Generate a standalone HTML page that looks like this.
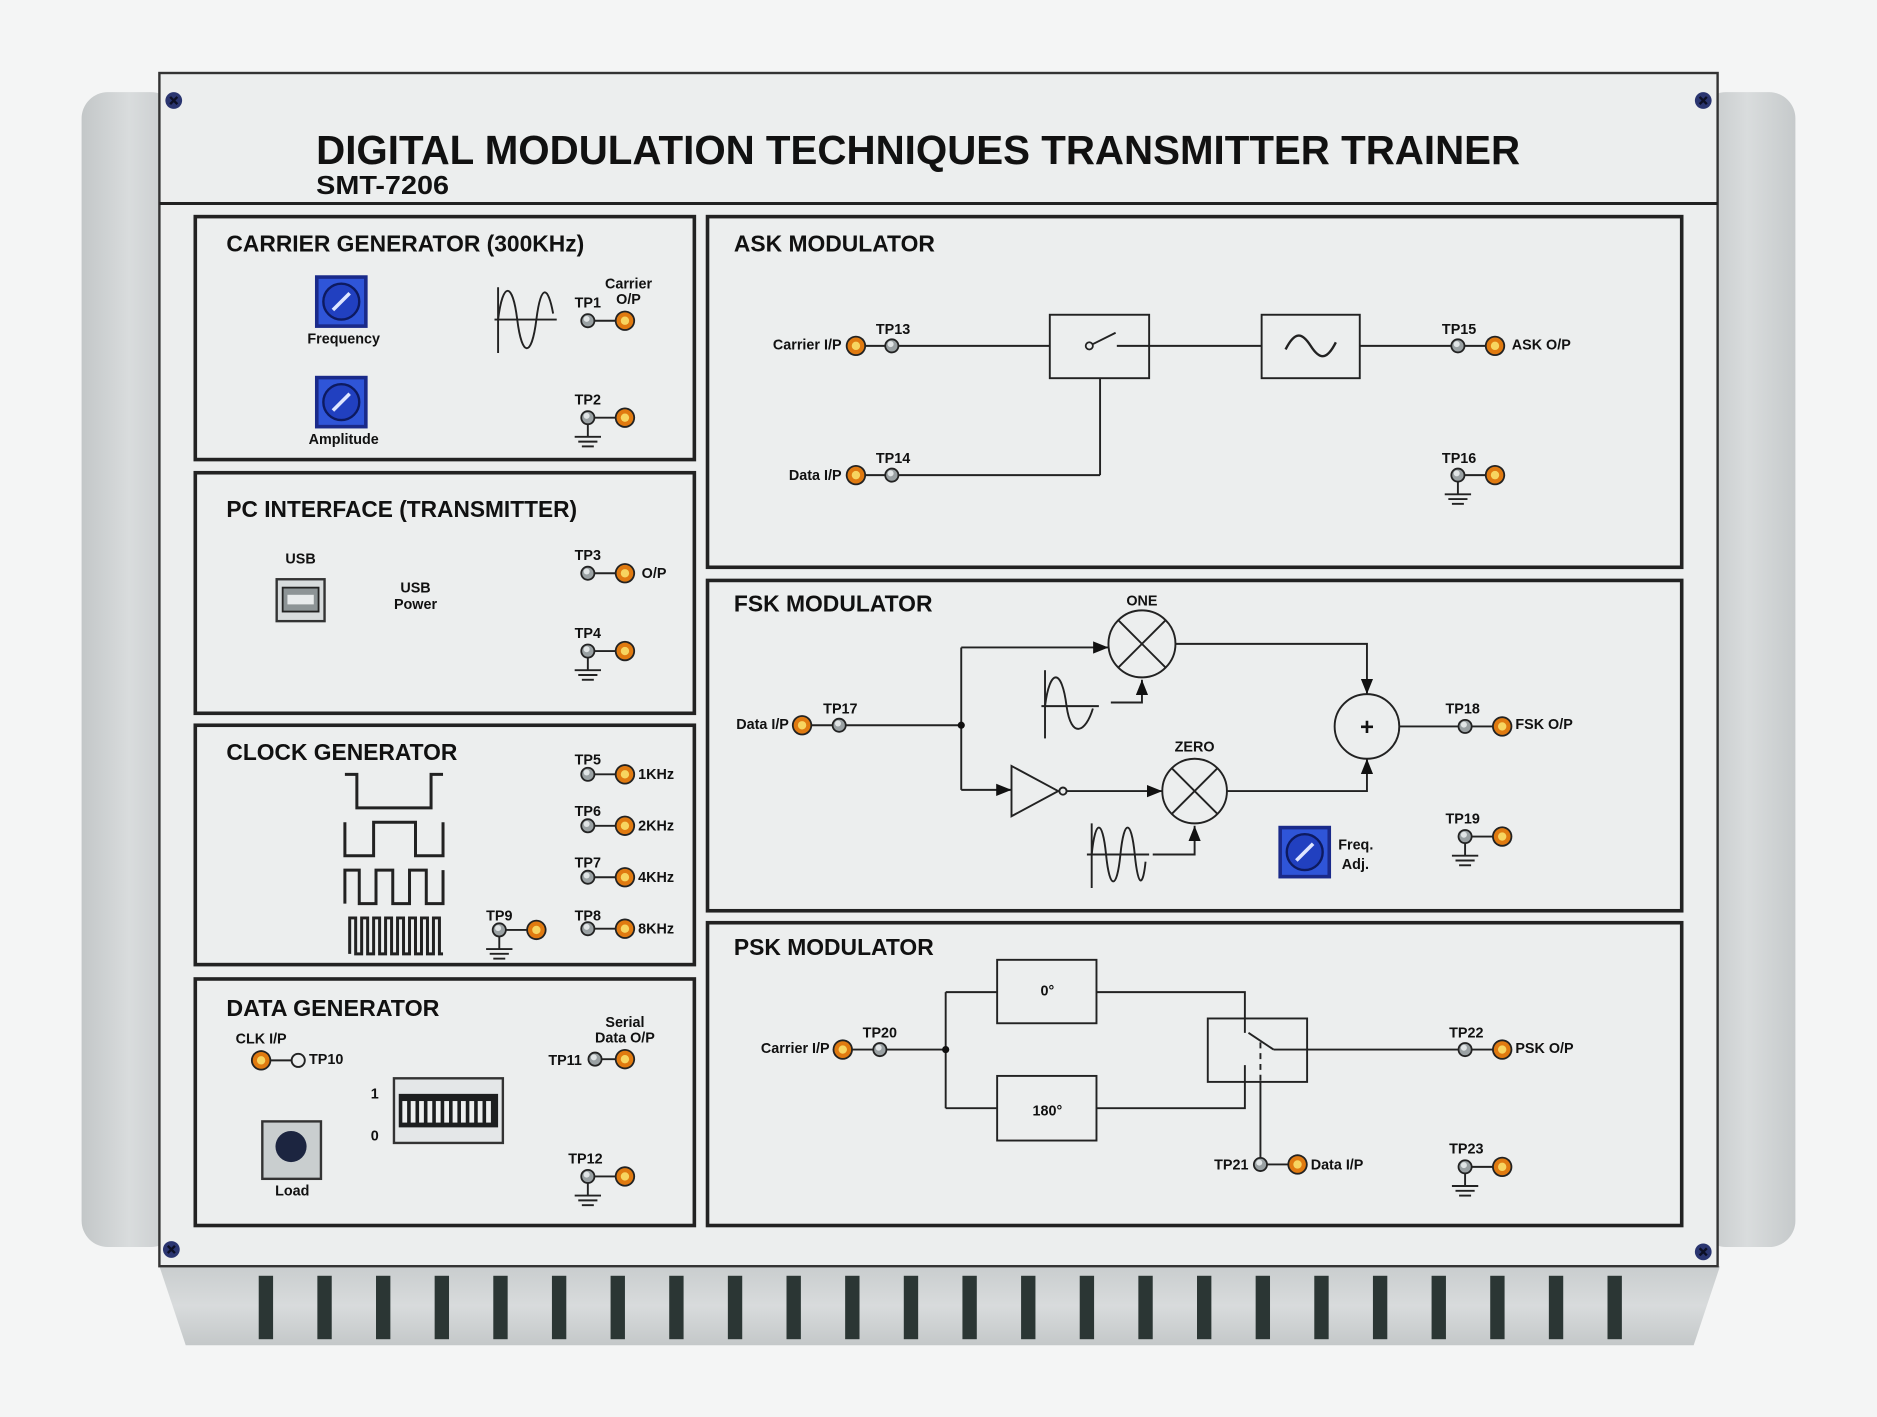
<!DOCTYPE html>
<html><head><meta charset="utf-8"><style>
html,body{margin:0;padding:0;background:#f4f5f5;}
svg{display:block;}
text{font-family:"Liberation Sans",Arial,sans-serif;font-weight:bold;fill:#111;}
</style></head><body>
<svg width="1877" height="1417" viewBox="0 0 1568 1184" xmlns="http://www.w3.org/2000/svg">
<defs>
<linearGradient id="metal" x1="0" y1="0" x2="0" y2="1">
<stop offset="0" stop-color="#c9cdce"/><stop offset="0.5" stop-color="#d8dbdc"/><stop offset="1" stop-color="#c4c8c9"/></linearGradient>
<linearGradient id="metalh" x1="0" y1="0" x2="1" y2="0">
<stop offset="0" stop-color="#c3c7c8"/><stop offset="0.5" stop-color="#d9dcdd"/><stop offset="1" stop-color="#c6cacb"/></linearGradient>
<g id="gtp"><circle r="5.5" fill="#9aa1a3" stroke="#222" stroke-width="1.5"/><circle cx="-1" cy="-1.5" r="2.5" fill="#e0e4e5"/></g>
<g id="otp"><circle r="8.5" fill="#222"/><circle r="7" fill="#e07a10"/><circle r="3.5" fill="#f7d560"/></g>
<g id="gnd" stroke="#222" stroke-width="1.6"><line x1="0" y1="5" x2="0" y2="16"/><line x1="-11" y1="16" x2="11" y2="16"/><line x1="-8" y1="20" x2="8" y2="20"/><line x1="-5" y1="24" x2="5" y2="24"/></g>
<g id="pot"><rect width="44" height="44" fill="#1a2a8a"/><rect x="3" y="3" width="38" height="38" fill="#2f55d8"/><circle cx="22" cy="22" r="15" fill="#2140c0" stroke="#0d1a60" stroke-width="2"/><line x1="15" y1="29" x2="29" y2="15" stroke="#dfe6ff" stroke-width="3"/></g>
<g id="screw"><circle r="7" fill="#2a3570"/><path d="M-3,-3 L3,3 M3,-3 L-3,3" stroke="#0c0f25" stroke-width="2"/></g>
<marker id="ar" viewBox="0 0 10 10" refX="10" refY="5" markerWidth="8" markerHeight="8" orient="auto"><path d="M0,1 L10,5 L0,9 z" fill="#111"/></marker>
</defs>

<!-- side metal -->
<rect x="68" y="77" width="80" height="965" rx="22" fill="url(#metalh)"/>
<rect x="1420" y="77" width="80" height="965" rx="22" fill="url(#metalh)"/>
<!-- bottom trapezoid -->
<path d="M133,1058 L1437,1058 L1415,1124 L155,1124 Z" fill="url(#metal)"/>
<g fill="#2b3634">
<rect x="216" y="1066" width="12" height="53"/><rect x="265" y="1066" width="12" height="53"/><rect x="314" y="1066" width="12" height="53"/><rect x="363" y="1066" width="12" height="53"/><rect x="412" y="1066" width="12" height="53"/><rect x="461" y="1066" width="12" height="53"/><rect x="510" y="1066" width="12" height="53"/><rect x="559" y="1066" width="12" height="53"/><rect x="608" y="1066" width="12" height="53"/><rect x="657" y="1066" width="12" height="53"/><rect x="706" y="1066" width="12" height="53"/><rect x="755" y="1066" width="12" height="53"/><rect x="804" y="1066" width="12" height="53"/><rect x="853" y="1066" width="12" height="53"/><rect x="902" y="1066" width="12" height="53"/><rect x="951" y="1066" width="12" height="53"/><rect x="1000" y="1066" width="12" height="53"/><rect x="1049" y="1066" width="12" height="53"/><rect x="1098" y="1066" width="12" height="53"/><rect x="1147" y="1066" width="12" height="53"/><rect x="1196" y="1066" width="12" height="53"/><rect x="1245" y="1066" width="12" height="53"/><rect x="1294" y="1066" width="12" height="53"/><rect x="1343" y="1066" width="12" height="53"/>
</g>
<!-- main panel -->
<rect x="133" y="61" width="1302" height="997" fill="#eceeee" stroke="#333" stroke-width="2"/>
<line x1="133" y1="170" x2="1435" y2="170" stroke="#222" stroke-width="2.5"/>
<use href="#screw" x="145" y="84"/><use href="#screw" x="1423" y="84"/><use href="#screw" x="143" y="1044"/><use href="#screw" x="1423" y="1046"/>
<text x="264" y="137" font-size="34" textLength="1006" lengthAdjust="spacingAndGlyphs">DIGITAL MODULATION TECHNIQUES TRANSMITTER TRAINER</text>
<text x="264" y="162" font-size="22" textLength="111" lengthAdjust="spacingAndGlyphs">SMT-7206</text>

<g fill="none" stroke="#222" stroke-width="3">
<rect x="163" y="181" width="417" height="203"/>
<rect x="163" y="395" width="417" height="201"/>
<rect x="163" y="606" width="417" height="200"/>
<rect x="163" y="818" width="417" height="206"/>
<rect x="591" y="181" width="814" height="293"/>
<rect x="591" y="485" width="814" height="276"/>
<rect x="591" y="771" width="814" height="253"/>
</g>
<g font-size="19">
<text x="189" y="210" textLength="299" lengthAdjust="spacingAndGlyphs">CARRIER GENERATOR (300KHz)</text>
<text x="189" y="432" textLength="293" lengthAdjust="spacingAndGlyphs">PC INTERFACE (TRANSMITTER)</text>
<text x="189" y="635" textLength="193" lengthAdjust="spacingAndGlyphs">CLOCK GENERATOR</text>
<text x="189" y="849" textLength="178" lengthAdjust="spacingAndGlyphs">DATA GENERATOR</text>
<text x="613" y="210" textLength="168" lengthAdjust="spacingAndGlyphs">ASK MODULATOR</text>
<text x="613" y="511" textLength="166" lengthAdjust="spacingAndGlyphs">FSK MODULATOR</text>
<text x="613" y="798" textLength="167" lengthAdjust="spacingAndGlyphs">PSK MODULATOR</text>
</g>

<g stroke="#222" stroke-width="1.6" fill="none">
<!-- connectors between TPs -->
<line x1="491" y1="268" x2="522" y2="268"/><line x1="491" y1="349" x2="522" y2="349"/>
<line x1="491" y1="479" x2="522" y2="479"/><line x1="491" y1="544" x2="522" y2="544"/>
<line x1="491" y1="647" x2="522" y2="647"/><line x1="491" y1="690" x2="522" y2="690"/><line x1="491" y1="733" x2="522" y2="733"/><line x1="491" y1="776" x2="522" y2="776"/><line x1="417" y1="777" x2="448" y2="777"/>
<line x1="218" y1="886" x2="249" y2="886"/><line x1="497" y1="885" x2="522" y2="885"/><line x1="491" y1="983" x2="522" y2="983"/>
<!-- carrier sine -->
<line x1="416" y1="240" x2="416" y2="295"/><line x1="413" y1="267" x2="465" y2="267"/>
<path d="M416,267 C420,235 428,235 432,267 C436,299 444,299 448,267 C452,235 458,240 462,262"/>
<!-- clock waveforms -->
<path stroke-width="2.5" d="M288,647 H298 V675 H360 V647 H370"/>
<path stroke-width="2.5" d="M288,687 V715 H312 V687 H347 V715 H370 V687"/>
<path stroke-width="2.5" d="M288,755 V727 H300 V755 H314 V727 H328 V755 H342 V727 H356 V755 H370 V727"/>
<path stroke-width="2.5" d="M292,797 V767 H297 V797 H302 V767 H307 V797 H312 V767 H317 V797 H322 V767 H327 V797 H332 V767 H337 V797 H342 V767 H347 V797 H352 V767 H357 V797 H362 V767 H367 V797 H370"/>
<!-- ASK -->
<line x1="715" y1="289" x2="877" y2="289"/>
<rect x="877" y="263" width="83" height="53"/>
<line x1="933" y1="289" x2="960" y2="289"/><line x1="912" y1="288" x2="932" y2="278"/>
<line x1="960" y1="289" x2="1054" y2="289"/>
<rect x="1054" y="263" width="82" height="53"/>
<path d="M1074,292 C1082,276 1088,278 1095,289 C1102,300 1108,302 1116,286" stroke-width="2"/>
<line x1="1136" y1="289" x2="1249" y2="289"/>
<line x1="715" y1="397" x2="919" y2="397"/><line x1="919" y1="397" x2="919" y2="316"/>
<line x1="1218" y1="397" x2="1249" y2="397"/>
<!-- FSK -->
<line x1="670" y1="606" x2="803" y2="606"/>
<line x1="803" y1="541" x2="803" y2="660"/>
<line x1="803" y1="541" x2="926" y2="541" marker-end="url(#ar)"/>
<circle cx="954" cy="538" r="28"/><path d="M934,518 L974,558 M974,518 L934,558"/>
<line x1="803" y1="660" x2="845" y2="660" marker-end="url(#ar)"/>
<path d="M845,640 L845,682 L884,661 Z"/><circle cx="888" cy="661" r="3"/>
<line x1="891" y1="661" x2="971" y2="661" marker-end="url(#ar)"/>
<circle cx="998" cy="661" r="27"/><path d="M979,642 L1017,680 M1017,642 L979,680"/>
<path d="M982,538 H1142 V580" marker-end="url(#ar)"/>
<circle cx="1142" cy="607" r="27"/>
<path d="M1025,661 H1142 V634" marker-end="url(#ar)"/>
<line x1="1169" y1="607" x2="1255" y2="607"/>
<line x1="873" y1="560" x2="873" y2="617"/><line x1="870" y1="590" x2="918" y2="590"/>
<path d="M873,590 C877,558 887,558 891,590 C895,618 907,612 913,592"/>
<path d="M928,587 H954 V568" marker-end="url(#ar)"/>
<line x1="912" y1="688" x2="912" y2="742"/><line x1="908" y1="714" x2="960" y2="714"/>
<path d="M912,714 C915,684 921,684 924,714 C927,744 933,744 936,714 C939,684 945,684 948,714 C951,744 955,740 957,720"/>
<path d="M963,714 H998 V690" marker-end="url(#ar)"/>
<line x1="1224" y1="699" x2="1255" y2="699"/>
<!-- PSK -->
<line x1="704" y1="877" x2="790" y2="877"/>
<line x1="790" y1="829" x2="790" y2="926"/>
<line x1="790" y1="829" x2="833" y2="829"/><rect x="833" y="802" width="83" height="53"/>
<line x1="790" y1="926" x2="833" y2="926"/><rect x="833" y="899" width="83" height="54"/>
<path d="M916,829 H1040 V863"/>
<path d="M916,926 H1040 V890"/>
<rect x="1009" y="851" width="83" height="53"/>
<line x1="1043" y1="863" x2="1064" y2="877"/><line x1="1064" y1="877" x2="1255" y2="877"/>
<line x1="1053" y1="871" x2="1053" y2="904" stroke-dasharray="5,4"/>
<line x1="1053" y1="904" x2="1053" y2="973"/><line x1="1053" y1="973" x2="1084" y2="973"/>
<line x1="1224" y1="975" x2="1255" y2="975"/>
</g>
<text x="1142" y="614" font-size="20" font-weight="normal" text-anchor="middle">+</text>
<circle cx="803" cy="606" r="3" fill="#111"/><circle cx="790" cy="877" r="3" fill="#111"/>
<circle cx="910" cy="289" r="3" fill="#eceeee" stroke="#222" stroke-width="1.5"/>

<!-- pots -->
<use href="#pot" x="263" y="230"/><use href="#pot" x="263" y="314"/><use href="#pot" x="1068" y="690"/>
<!-- USB -->
<rect x="231" y="484" width="40" height="35" fill="#d8dcdd" stroke="#333" stroke-width="2"/>
<rect x="236" y="491" width="30" height="20" fill="#8d9496" stroke="#222" stroke-width="1.5"/>
<rect x="240" y="497" width="22" height="8" fill="#e8ebec"/>
<!-- DIP -->
<rect x="329" y="901" width="91" height="54" fill="#e4e7e8" stroke="#333" stroke-width="2"/>
<rect x="333" y="914" width="83" height="28" fill="#1d1f20"/>
<g fill="#eef0f0">
<rect x="336" y="920" width="4" height="18"/><rect x="343" y="920" width="4" height="18"/><rect x="350" y="920" width="4" height="18"/><rect x="357" y="920" width="4" height="18"/><rect x="364" y="920" width="4" height="18"/><rect x="371" y="920" width="4" height="18"/><rect x="378" y="920" width="4" height="18"/><rect x="385" y="920" width="4" height="18"/><rect x="392" y="920" width="4" height="18"/><rect x="399" y="920" width="4" height="18"/><rect x="406" y="920" width="4" height="18"/>
</g>
<!-- push button -->
<rect x="219" y="937" width="49" height="48" fill="#c9cecf" stroke="#333" stroke-width="2"/>
<circle cx="243" cy="958" r="13" fill="#1c2540"/>

<!-- grounds -->
<use href="#gnd" x="491" y="349"/><use href="#gnd" x="491" y="544"/><use href="#gnd" x="417" y="777"/><use href="#gnd" x="491" y="983"/>
<use href="#gnd" x="1218" y="397"/><use href="#gnd" x="1224" y="699"/><use href="#gnd" x="1224" y="975"/>
<!-- grey tps -->
<use href="#gtp" x="491" y="268"/><use href="#gtp" x="491" y="349"/><use href="#gtp" x="491" y="479"/><use href="#gtp" x="491" y="544"/>
<use href="#gtp" x="491" y="647"/><use href="#gtp" x="491" y="690"/><use href="#gtp" x="491" y="733"/><use href="#gtp" x="491" y="776"/><use href="#gtp" x="417" y="777"/>
<use href="#gtp" x="497" y="885"/><use href="#gtp" x="491" y="983"/>
<use href="#gtp" x="745" y="289"/><use href="#gtp" x="745" y="397"/><use href="#gtp" x="1218" y="289"/><use href="#gtp" x="1218" y="397"/>
<use href="#gtp" x="701" y="606"/><use href="#gtp" x="1224" y="607"/><use href="#gtp" x="1224" y="699"/>
<use href="#gtp" x="735" y="877"/><use href="#gtp" x="1224" y="877"/><use href="#gtp" x="1053" y="973"/><use href="#gtp" x="1224" y="975"/>
<circle cx="249" cy="886" r="5.5" fill="#eceeee" stroke="#222" stroke-width="1.6"/>
<!-- orange tps -->
<use href="#otp" x="522" y="268"/><use href="#otp" x="522" y="349"/><use href="#otp" x="522" y="479"/><use href="#otp" x="522" y="544"/>
<use href="#otp" x="522" y="647"/><use href="#otp" x="522" y="690"/><use href="#otp" x="522" y="733"/><use href="#otp" x="522" y="776"/><use href="#otp" x="448" y="777"/>
<use href="#otp" x="218" y="886"/><use href="#otp" x="522" y="885"/><use href="#otp" x="522" y="983"/>
<use href="#otp" x="715" y="289"/><use href="#otp" x="715" y="397"/><use href="#otp" x="1249" y="289"/><use href="#otp" x="1249" y="397"/>
<use href="#otp" x="670" y="606"/><use href="#otp" x="1255" y="607"/><use href="#otp" x="1255" y="699"/>
<use href="#otp" x="704" y="877"/><use href="#otp" x="1255" y="877"/><use href="#otp" x="1084" y="973"/><use href="#otp" x="1255" y="975"/>

<!-- small labels -->
<g font-size="12">
<text x="287" y="287" text-anchor="middle">Frequency</text>
<text x="287" y="371" text-anchor="middle">Amplitude</text>
<text x="491" y="257" text-anchor="middle">TP1</text>
<text x="525" y="241" text-anchor="middle">Carrier</text><text x="525" y="254" text-anchor="middle">O/P</text>
<text x="491" y="338" text-anchor="middle">TP2</text>
<text x="251" y="471" text-anchor="middle">USB</text>
<text x="347" y="495" text-anchor="middle">USB</text><text x="347" y="509" text-anchor="middle">Power</text>
<text x="491" y="468" text-anchor="middle">TP3</text><text x="536" y="483">O/P</text>
<text x="491" y="533" text-anchor="middle">TP4</text>
<text x="491" y="639" text-anchor="middle">TP5</text><text x="533" y="651">1KHz</text>
<text x="491" y="682" text-anchor="middle">TP6</text><text x="533" y="694">2KHz</text>
<text x="491" y="725" text-anchor="middle">TP7</text><text x="533" y="737">4KHz</text>
<text x="491" y="769" text-anchor="middle">TP8</text><text x="533" y="780">8KHz</text>
<text x="417" y="769" text-anchor="middle">TP9</text>
<text x="218" y="872" text-anchor="middle">CLK I/P</text><text x="258" y="889">TP10</text>
<text x="522" y="858" text-anchor="middle">Serial</text><text x="522" y="871" text-anchor="middle">Data O/P</text>
<text x="472" y="890" text-anchor="middle">TP11</text>
<text x="313" y="918" text-anchor="middle">1</text><text x="313" y="953" text-anchor="middle">0</text>
<text x="244" y="999" text-anchor="middle">Load</text>
<text x="489" y="972" text-anchor="middle">TP12</text>
<text x="703" y="292" text-anchor="end">Carrier I/P</text><text x="746" y="279" text-anchor="middle">TP13</text>
<text x="703" y="401" text-anchor="end">Data I/P</text><text x="746" y="387" text-anchor="middle">TP14</text>
<text x="1219" y="279" text-anchor="middle">TP15</text><text x="1263" y="292">ASK O/P</text>
<text x="1219" y="387" text-anchor="middle">TP16</text>
<text x="659" y="609" text-anchor="end">Data I/P</text><text x="702" y="596" text-anchor="middle">TP17</text>
<text x="954" y="506" text-anchor="middle">ONE</text><text x="998" y="628" text-anchor="middle">ZERO</text>
<text x="1222" y="596" text-anchor="middle">TP18</text><text x="1266" y="609">FSK O/P</text>
<text x="1222" y="688" text-anchor="middle">TP19</text>
<text x="1118" y="710">Freq.</text><text x="1121" y="726">Adj.</text>
<text x="693" y="880" text-anchor="end">Carrier I/P</text><text x="735" y="867" text-anchor="middle">TP20</text>
<text x="875" y="832" text-anchor="middle">0°</text><text x="875" y="932" text-anchor="middle">180°</text>
<text x="1225" y="867" text-anchor="middle">TP22</text><text x="1266" y="880">PSK O/P</text>
<text x="1043" y="977" text-anchor="end">TP21</text><text x="1095" y="977">Data I/P</text>
<text x="1225" y="964" text-anchor="middle">TP23</text>
</g>
</svg>
</body></html>
